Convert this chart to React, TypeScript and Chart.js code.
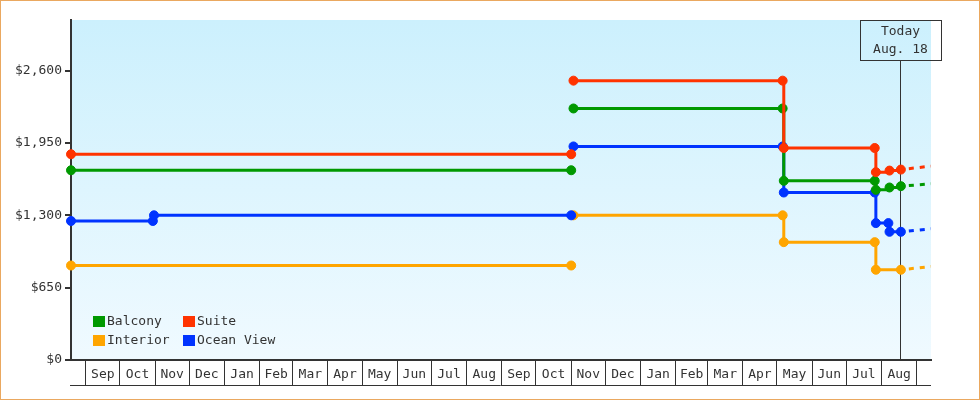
import React, { useEffect, useRef } from 'react';
import { Chart, registerables } from 'chart.js';

Chart.register(...registerables);

const FONT = '"DejaVu Sans Mono", monospace';
const TEXT = '#333333';

// Series
const seriesNames = ['Balcony', 'Suite', 'Interior', 'Ocean View'];
const seriesColors = ['#009900', '#ff3300', '#ffa500', '#0033ff'];
const seriesOrder = [1, 0, 3, 2];

const balconyDates = ['2023-08-19', '2024-11-01', '2024-11-02', '2024-11-03', '2025-05-06', '2025-05-07', '2025-07-26', '2025-07-27', '2025-08-08', '2025-08-18'];
const balconyPrices = [1705, 1705, null, 2260, 2260, 1610, 1610, 1529, 1550, 1562];

const suiteDates = ['2023-08-19', '2024-11-01', '2024-11-02', '2024-11-03', '2025-05-06', '2025-05-07', '2025-07-26', '2025-07-27', '2025-08-08', '2025-08-18'];
const suitePrices = [1849, 1849, null, 2510, 2510, 1905, 1905, 1688, 1702, 1711];

const interiorDates = ['2023-08-19', '2024-11-01', '2024-11-02', '2024-11-03', '2025-05-06', '2025-05-07', '2025-07-26', '2025-07-27', '2025-08-18'];
const interiorPrices = [849, 849, null, 1300, 1300, 1059, 1059, 811, 811];

const oceanDates = ['2023-08-19', '2023-10-30', '2023-10-31', '2024-11-01', '2024-11-02', '2024-11-03', '2025-05-06', '2025-05-07', '2025-07-26', '2025-07-27', '2025-08-07', '2025-08-08', '2025-08-18'];
const oceanPrices = [1249, 1249, 1300, 1300, null, 1919, 1919, 1505, 1505, 1230, 1230, 1152, 1152];

// Projection (dashed) beyond today
const projectionDates = ['2025-08-18', '2025-09-13T12:00:00Z'];
const balconyProjection = [1562, 1583];
const suiteProjection = [1711, 1742];
const interiorProjection = [811, 840];
const oceanProjection = [1152, 1179];

// Axes
const xMinDate = '2023-08-19';
const xMaxDate = '2025-09-13T12:00:00Z';
const monthStarts = [
  '2023-09-01', '2023-10-01', '2023-11-01', '2023-12-01', '2024-01-01', '2024-02-01',
  '2024-03-01', '2024-04-01', '2024-05-01', '2024-06-01', '2024-07-01', '2024-08-01',
  '2024-09-01', '2024-10-01', '2024-11-01', '2024-12-01', '2025-01-01', '2025-02-01',
  '2025-03-01', '2025-04-01', '2025-05-01', '2025-06-01', '2025-07-01', '2025-08-01',
  '2025-09-01',
];
const monthLabels = [
  'Sep', 'Oct', 'Nov', 'Dec', 'Jan', 'Feb', 'Mar', 'Apr', 'May', 'Jun', 'Jul', 'Aug',
  'Sep', 'Oct', 'Nov', 'Dec', 'Jan', 'Feb', 'Mar', 'Apr', 'May', 'Jun', 'Jul', 'Aug',
];
const yTicks = [0, 650, 1300, 1950, 2600];
const yMax = 3055;

const todayDate = '2025-08-18';
const todayLines = ['Today', 'Aug. 18'];

const dayNum = (s: string) => Date.parse(s) / 86400000;

const allDates = [balconyDates, suiteDates, interiorDates, oceanDates];
const allPrices = [balconyPrices, suitePrices, interiorPrices, oceanPrices];
const allProjections = [balconyProjection, suiteProjection, interiorProjection, oceanProjection];

function buildXTicks() {
  const ticks: any[] = [];
  for (let i = 0; i < monthStarts.length; i++) {
    const v = dayNum(monthStarts[i]);
    ticks.push({ value: v, boundary: true, text: '' });
    if (i < monthLabels.length) {
      const next = dayNum(monthStarts[i + 1]);
      ticks.push({ value: (v + next) / 2, boundary: false, text: monthLabels[i] });
    }
  }
  return ticks;
}

const decorPlugin = {
  id: 'decor',
  beforeDraw(chart: any) {
    const { ctx, chartArea } = chart;
    ctx.save();
    ctx.fillStyle = '#ffffff';
    ctx.fillRect(0, 0, chart.width, chart.height);
    const g = ctx.createLinearGradient(0, chartArea.top, 0, chartArea.bottom);
    g.addColorStop(0, '#ccf0fd');
    g.addColorStop(1, '#f0faff');
    ctx.fillStyle = g;
    ctx.fillRect(chartArea.left, chartArea.top, chartArea.right - chartArea.left, chartArea.bottom - chartArea.top);
    ctx.restore();
  },
  beforeDatasetsDraw(chart: any) {
    const { ctx, chartArea, scales } = chart;
    const px = Math.floor(scales.x.getPixelForValue(dayNum(todayDate))) + 0.5;
    const boxW = 81;
    const boxH = 40;
    const bx = Math.round(px - boxW / 2);
    ctx.save();
    ctx.strokeStyle = TEXT;
    ctx.lineWidth = 1;
    ctx.beginPath();
    ctx.moveTo(px, chartArea.top + boxH);
    ctx.lineTo(px, chartArea.bottom);
    ctx.stroke();
    ctx.strokeRect(bx + 0.5, chartArea.top + 0.5, boxW, boxH);
    ctx.fillStyle = TEXT;
    ctx.font = `13px ${FONT}`;
    ctx.textAlign = 'center';
    ctx.textBaseline = 'middle';
    ctx.fillText(todayLines[0], px, chartArea.top + 12);
    ctx.fillText(todayLines[1], px, chartArea.top + 30);
    ctx.restore();
  },
  afterDraw(chart: any) {
    const { ctx, chartArea } = chart;
    ctx.save();
    // bottom line of month row
    ctx.strokeStyle = TEXT;
    ctx.lineWidth = 1;
    ctx.beginPath();
    ctx.moveTo(chartArea.left - 1, chartArea.bottom + 25.5);
    ctx.lineTo(chartArea.right, chartArea.bottom + 25.5);
    ctx.stroke();
    // legend
    ctx.font = `13px ${FONT}`;
    ctx.textAlign = 'left';
    ctx.textBaseline = 'middle';
    for (let i = 0; i < seriesNames.length; i++) {
      const col = i % 2;
      const row = Math.floor(i / 2);
      const x0 = chartArea.left + 22 + col * 90;
      const y0 = chartArea.bottom - 44 + row * 19;
      ctx.fillStyle = seriesColors[i];
      ctx.fillRect(x0, y0, 12, 11);
      ctx.fillStyle = TEXT;
      ctx.fillText(seriesNames[i], x0 + 14, y0 + 6);
    }
    // outer border
    ctx.strokeStyle = '#eaa860';
    ctx.lineWidth = 1;
    ctx.strokeRect(0.5, 0.5, chart.width - 1, chart.height - 1);
    ctx.restore();
  },
};

export default function App() {
  const canvasRef = useRef<HTMLCanvasElement | null>(null);

  useEffect(() => {
    const canvas = canvasRef.current;
    if (!canvas) return;

    const datasets: any[] = [];
    for (let i = 0; i < seriesNames.length; i++) {
      datasets.push({
        label: seriesNames[i],
        data: allDates[i].map((d, j) => ({ x: dayNum(d), y: allPrices[i][j] })),
        borderColor: seriesColors[i],
        backgroundColor: seriesColors[i],
        borderWidth: 3,
        stepped: 'before',
        spanGaps: false,
        fill: false,
        pointRadius: 4.5,
        pointHoverRadius: 4.5,
        pointBorderWidth: 1,
        pointBackgroundColor: seriesColors[i],
        pointBorderColor: seriesColors[i],
        order: seriesOrder[i],
        clip: false,
      });
    }
    for (let i = 0; i < seriesNames.length; i++) {
      datasets.push({
        label: seriesNames[i] + ' projection',
        data: projectionDates.map((d, j) => ({ x: dayNum(d), y: allProjections[i][j] })),
        borderColor: seriesColors[i],
        borderWidth: 3,
        borderDash: [5, 6],
        borderDashOffset: 3,
        borderCapStyle: 'butt',
        fill: false,
        pointRadius: 0,
        pointHoverRadius: 0,
        order: 10 + seriesOrder[i],
      });
    }

    const chart = new Chart(canvas, {
      type: 'line',
      data: { datasets },
      options: {
        animation: false,
        responsive: false,
        events: [],
        layout: { padding: { top: 20, right: 49, bottom: 0, left: 0 } },
        plugins: {
          legend: { display: false },
          tooltip: { enabled: false },
        },
        scales: {
          x: {
            type: 'linear',
            min: dayNum(xMinDate),
            max: dayNum(xMaxDate),
            afterBuildTicks: (s: any) => {
              s.ticks = buildXTicks();
            },
            afterFit: (s: any) => {
              s.height = 40;
            },
            ticks: {
              autoSkip: false,
              maxRotation: 0,
              minRotation: 0,
              padding: -18,
              color: TEXT,
              font: { family: FONT, size: 13 },
              callback: (_v: any, i: number, ticks: any[]) => (ticks[i] && ticks[i].text) || '',
            },
            grid: {
              display: true,
              drawOnChartArea: false,
              drawTicks: true,
              tickLength: 25,
              color: TEXT,
              lineWidth: (c: any) => (c.tick && c.tick.boundary ? 1 : 0),
              tickWidth: (c: any) => (c.tick && c.tick.boundary ? 1 : 0),
              tickColor: TEXT,
            },
            border: { display: true, color: TEXT, width: 2 },
          },
          y: {
            type: 'linear',
            min: 0,
            max: yMax,
            afterBuildTicks: (s: any) => {
              s.ticks = yTicks.map((v) => ({ value: v }));
            },
            afterFit: (s: any) => {
              s.width = 71;
            },
            ticks: {
              padding: 3,
              color: TEXT,
              font: { family: FONT, size: 13 },
              callback: (v: any) => '$' + Number(v).toLocaleString('en-US'),
            },
            grid: {
              display: true,
              drawOnChartArea: false,
              drawTicks: true,
              tickLength: 6,
              lineWidth: 2,
              color: TEXT,
            },
            border: { display: true, color: TEXT, width: 2 },
          },
        },
      },
      plugins: [decorPlugin],
    } as any);

    return () => chart.destroy();
  }, []);

  return (
    <div style={{ position: 'absolute', left: 0, top: 0, width: 980, height: 400 }}>
      <canvas ref={canvasRef} width={980} height={400} style={{ display: 'block', width: 980, height: 400 }} />
    </div>
  );
}
